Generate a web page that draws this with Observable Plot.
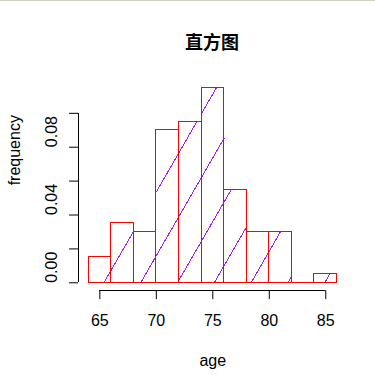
<!DOCTYPE html>
<html>
<head>
<meta charset="utf-8">
<script src="https://cdn.jsdelivr.net/npm/d3@7"></script>
<script src="https://cdn.jsdelivr.net/npm/@observablehq/plot@0.6"></script>
<style>
  html, body { margin: 0; padding: 0; background: #fff; }
  #wrap { position: relative; width: 375px; height: 375px; overflow: hidden; background: #fff; }
  #topline { position: absolute; left: 0; top: 0; width: 375px; height: 1px; background: #d4d0c8; z-index: 2; }
  #title { position: absolute; left: 78px; width: 268px; top: 30px; text-align: center;
           font-family: "Noto Sans CJK SC", sans-serif; font-weight: bold; font-size: 18px; line-height: 22px; color: #000; z-index: 2; }
  #chart { position: absolute; left: 0; top: 0; }
</style>
</head>
<body>
<div id="wrap">
  <div id="topline"></div>
  <div id="title">直方图</div>
  <div id="chart"></div>
</div>
<script>
// Histogram data (density scale), bin breaks every 2 years
const breaks = [64, 66, 68, 70, 72, 74, 76, 78, 80, 82, 84, 86];
const density = [0.015, 0.035, 0.03, 0.09, 0.095, 0.115, 0.055, 0.03, 0.03, 0, 0.005];
const xTicks = [65, 70, 75, 80, 85];
const yTicks = [0, 0.02, 0.04, 0.06, 0.08, 0.10];
const yLabelTicks = [0, 0.04, 0.08];
const xTitle = "age";
const yTitle = "frequency";

const bins = density.map((d, i) => ({x1: breaks[i], x2: breaks[i + 1], density: d}));

// layout
const W = 375, H = 375;
const mL = 78.1, mR = 28.5, mT = 79.6, mB = 84.9;

// R-style 4% axis expansion
const xr = d3.extent(breaks);
const xpad = (xr[1] - xr[0]) * 0.04;
const xDomain = [xr[0] - xpad, xr[1] + xpad];
const ymax = d3.max(density);
const yDomain = [-ymax * 0.04, ymax * 1.04];

// Shading lines (R: density/angle hatching) — 60°, ~36.8px apart along the baseline,
// clipped to each bar rectangle.
const kx = (W - mL - mR) / (xDomain[1] - xDomain[0]);   // px per x unit
const ky = (H - mT - mB) / (yDomain[1] - yDomain[0]);   // px per y unit
const hatchAngle = 60 * Math.PI / 180;
const hatchStepPx = 36.8;
const hatchStartPx = 4;                                   // offset from x = 65 on the baseline
const m = ky / (kx * Math.tan(hatchAngle));               // x data units per y data unit
const step = hatchStepPx / kx;
const c0 = xTicks[0] + hatchStartPx / kx;
const hatch = [];
for (let k = -6; k <= 10; k++) {
  const c = c0 + k * step;
  for (const b of bins) {
    const lo = Math.max(0, (b.x1 - c) / m);
    const hi = Math.min(b.density, (b.x2 - c) / m);
    if (hi > lo) hatch.push({x1: c + m * lo, y1: lo, x2: c + m * hi, y2: hi});
  }
}

const font = "Liberation Sans, Arial, sans-serif";

const chart = Plot.plot({
  width: W,
  height: H,
  marginLeft: mL,
  marginRight: mR,
  marginTop: mT,
  marginBottom: mB,
  style: {fontFamily: font, background: "transparent", color: "#000"},
  x: {domain: xDomain, axis: null},
  y: {domain: yDomain, axis: null},
  marks: [
    Plot.link(hatch, {x1: "x1", y1: "y1", x2: "x2", y2: "y2", stroke: "#A020F0", strokeWidth: 1, shapeRendering: "crispEdges"}),
    // bars
    Plot.rectY(bins, {x1: "x1", x2: "x2", y1: 0, y2: "density", fill: "none", stroke: "#FF0000", strokeWidth: 1, shapeRendering: "crispEdges"}),
    Plot.ruleY([0], {x1: d3.min(breaks), x2: d3.max(breaks), stroke: "#FF0000", strokeWidth: 1, shapeRendering: "crispEdges"}),
    // x axis
    Plot.ruleY([yDomain[0]], {x1: d3.min(xTicks), x2: d3.max(xTicks), stroke: "#000", shapeRendering: "crispEdges"}),
    Plot.axisX(xTicks, {anchor: "bottom", tickSize: 9, tickFormat: () => "", label: null, stroke: "#000"}),
    Plot.text(xTicks, {x: d => d, frameAnchor: "bottom", dy: 30, text: d => String(d), fontSize: 16, lineAnchor: "middle", fill: "#000"}),
    Plot.text([xTitle], {frameAnchor: "bottom", dy: 70, text: d => d, fontSize: 16, lineAnchor: "middle", fill: "#000"}),
    // y axis
    Plot.ruleX([xDomain[0]], {y1: d3.min(yTicks), y2: d3.max(yTicks), stroke: "#000", shapeRendering: "crispEdges"}),
    Plot.axisY(yTicks, {anchor: "left", tickSize: 9, tickFormat: () => "", label: null, stroke: "#000"}),
    Plot.text(yLabelTicks, {y: d => d, frameAnchor: "left", dx: -26.4, rotate: -90, text: d => d3.format(".2f")(d), fontSize: 16, lineAnchor: "middle", fill: "#000"}),
    Plot.text([yTitle], {frameAnchor: "left", dx: -64, rotate: -90, text: d => d, fontSize: 16, lineAnchor: "middle", fill: "#000"})
  ]
});

document.getElementById("chart").appendChild(chart);
</script>
</body>
</html>
